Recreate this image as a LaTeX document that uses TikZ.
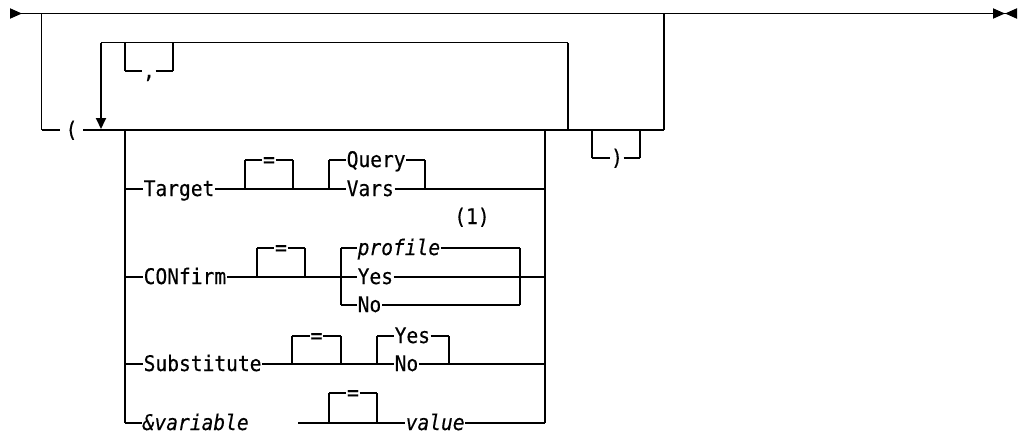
\documentclass[tikz,border=0pt]{standalone}
\usepackage{fontspec}
\usepackage{tikz}
\usetikzlibrary{arrows.meta}
\newfontfamily\railfont[FakeStretch=0.91, FakeBold=0.4, ItalicFont={DejaVu Sans Mono Oblique}]{DejaVu Sans Mono}
\pgfdeclarelayer{edgelayer}
\pgfdeclarelayer{nodelayer}
\pgfsetlayers{edgelayer,nodelayer,main}
\tikzstyle{rail}=[draw=black, line width=1.8pt, line join=miter]
\tikzstyle{kw}=[font=\railfont\fontsize{21.5pt}{24pt}\selectfont, inner xsep=0.5pt, inner ysep=0pt, text height=15pt, text depth=1pt]
\tikzstyle{var}=[kw, font=\railfont\fontsize{21.5pt}{24pt}\selectfont\itshape]
\tikzstyle{paren}=[kw, inner xsep=5.5pt]
\tikzstyle{corner}=[inner sep=0pt, outer sep=0pt, minimum size=0pt]

\begin{document}
\begin{tikzpicture}[x=1pt, y=-1pt]
	\useasboundingbox (0, 0) rectangle (1018, 432);
	\begin{pgfonlayer}{nodelayer}
		\node [style=paren] (1) at (71.5, 130) {(};
		\node [style=kw] (2) at (149, 71) {,};
		\node [style=kw, anchor=west] (3) at (143, 189) {Target};
		\node [style=kw] (4) at (269, 160) {=};
		\node [style=kw, anchor=west] (5) at (346, 160) {Query};
		\node [style=kw, anchor=west] (6) at (346, 189) {Vars};
		\node [style=kw] (7) at (472, 217) {(1)};
		\node [style=kw, anchor=west] (8) at (143, 277) {CONfirm};
		\node [style=kw] (9) at (281, 248) {=};
		\node [style=var, anchor=west] (10) at (357, 248) {profile};
		\node [style=kw, anchor=west] (11) at (357, 277) {Yes};
		\node [style=kw, anchor=west] (12) at (357, 305) {No};
		\node [style=kw, anchor=west] (13) at (143, 364) {Substitute};
		\node [style=kw] (14) at (316.5, 336) {=};
		\node [style=kw, anchor=west] (15) at (394, 336) {Yes};
		\node [style=kw, anchor=west] (16) at (394, 364) {No};
		\node [style=var, anchor=west] (17) at (142, 423) {\&variable};
		\node [style=kw] (18) at (353, 393) {=};
		\node [style=var, anchor=west] (19) at (405, 423) {value};
		\node [style=kw] (20) at (617, 158) {)};

		\node [style=corner] (21) at (10, 13.5) {};
		\node [style=corner] (22) at (1017, 13.5) {};
		\node [style=corner] (23) at (41.5, 13.5) {};
		\node [style=corner] (24) at (664, 13.5) {};
		\node [style=corner] (25) at (41.5, 130) {};
		\node [style=corner] (26) at (664, 130) {};
		\node [style=corner] (27) at (568, 130) {};
		\node [style=corner] (28) at (568, 42.5) {};
		\node [style=corner] (29) at (101, 42.5) {};
		\node [style=corner] (30) at (101, 129) {};
		\node [style=corner] (31) at (125, 42.5) {};
		\node [style=corner] (32) at (125, 71) {};
		\node [style=corner] (33) at (173, 71) {};
		\node [style=corner] (34) at (173, 42.5) {};
		\node [style=corner] (35) at (125, 130) {};
		\node [style=corner] (36) at (125, 423) {};
		\node [style=corner] (37) at (125, 189) {};
		\node [style=corner] (38) at (125, 277) {};
		\node [style=corner] (39) at (125, 364) {};
		\node [style=corner] (40) at (545, 130) {};
		\node [style=corner] (41) at (545, 189) {};
		\node [style=corner] (42) at (545, 277) {};
		\node [style=corner] (43) at (545, 364) {};
		\node [style=corner] (44) at (545, 423) {};
		\node [style=corner] (45) at (592, 130) {};
		\node [style=corner] (46) at (592, 158) {};
		\node [style=corner] (47) at (640, 158) {};
		\node [style=corner] (48) at (640, 130) {};
		\node [style=corner] (49) at (245, 189) {};
		\node [style=corner] (50) at (245, 160) {};
		\node [style=corner] (51) at (293, 160) {};
		\node [style=corner] (52) at (293, 189) {};
		\node [style=corner] (53) at (329, 189) {};
		\node [style=corner] (54) at (329, 160) {};
		\node [style=corner] (55) at (425, 160) {};
		\node [style=corner] (56) at (425, 189) {};
		\node [style=corner] (57) at (257, 277) {};
		\node [style=corner] (58) at (257, 248) {};
		\node [style=corner] (59) at (305, 248) {};
		\node [style=corner] (60) at (305, 277) {};
		\node [style=corner] (61) at (341, 248) {};
		\node [style=corner] (62) at (341, 305) {};
		\node [style=corner] (63) at (520, 248) {};
		\node [style=corner] (64) at (520, 305) {};
		\node [style=corner] (65) at (292, 364) {};
		\node [style=corner] (66) at (292, 336) {};
		\node [style=corner] (67) at (341, 336) {};
		\node [style=corner] (68) at (341, 364) {};
		\node [style=corner] (69) at (377, 364) {};
		\node [style=corner] (70) at (377, 336) {};
		\node [style=corner] (71) at (449, 336) {};
		\node [style=corner] (72) at (449, 364) {};
		\node [style=corner] (73) at (298, 423) {};
		\node [style=corner] (74) at (329, 423) {};
		\node [style=corner] (75) at (329, 393) {};
		\node [style=corner] (76) at (377, 393) {};
		\node [style=corner] (77) at (377, 423) {};
	\end{pgfonlayer}
	\begin{pgfonlayer}{edgelayer}
		\draw [style=rail, {Triangle[reversed, length=12pt, width=10pt]}-{Triangle[length=12pt, width=10pt]Triangle[reversed, length=12pt, width=10pt]}] (21) to (22);
		\draw [style=rail] (23) to (25) to (1);
		\draw [style=rail] (1) to (26) to (24);
		\draw [style=rail, -{Triangle[length=11pt, width=10pt]}] (27) to (28) to (29) to (30);
		\draw [style=rail] (31) to (32) to (2);
		\draw [style=rail] (2) to (33) to (34);
		\draw [style=rail] (35) to (36) to (17);
		\draw [style=rail] (37) to (3);
		\draw [style=rail] (38) to (8);
		\draw [style=rail] (39) to (13);
		\draw [style=rail] (19) to (44) to (40);
		\draw [style=rail] (6) to (41);
		\draw [style=rail] (11) to (42);
		\draw [style=rail] (16) to (43);
		\draw [style=rail] (45) to (46) to (20);
		\draw [style=rail] (20) to (47) to (48);
		% Target
		\draw [style=rail] (3) to (6);
		\draw [style=rail] (49) to (50) to (4);
		\draw [style=rail] (4) to (51) to (52);
		\draw [style=rail] (53) to (54) to (5);
		\draw [style=rail] (5) to (55) to (56);
		% CONfirm
		\draw [style=rail] (8) to (11);
		\draw [style=rail] (57) to (58) to (9);
		\draw [style=rail] (9) to (59) to (60);
		\draw [style=rail] (12) to (62) to (61) to (10);
		\draw [style=rail] (10) to (63) to (64) to (12);
		% Substitute
		\draw [style=rail] (13) to (16);
		\draw [style=rail] (65) to (66) to (14);
		\draw [style=rail] (14) to (67) to (68);
		\draw [style=rail] (69) to (70) to (15);
		\draw [style=rail] (15) to (71) to (72);
		% &variable
		\draw [style=rail] (73) to (19);
		\draw [style=rail] (74) to (75) to (18);
		\draw [style=rail] (18) to (76) to (77);
	\end{pgfonlayer}
\end{tikzpicture}
\end{document}
